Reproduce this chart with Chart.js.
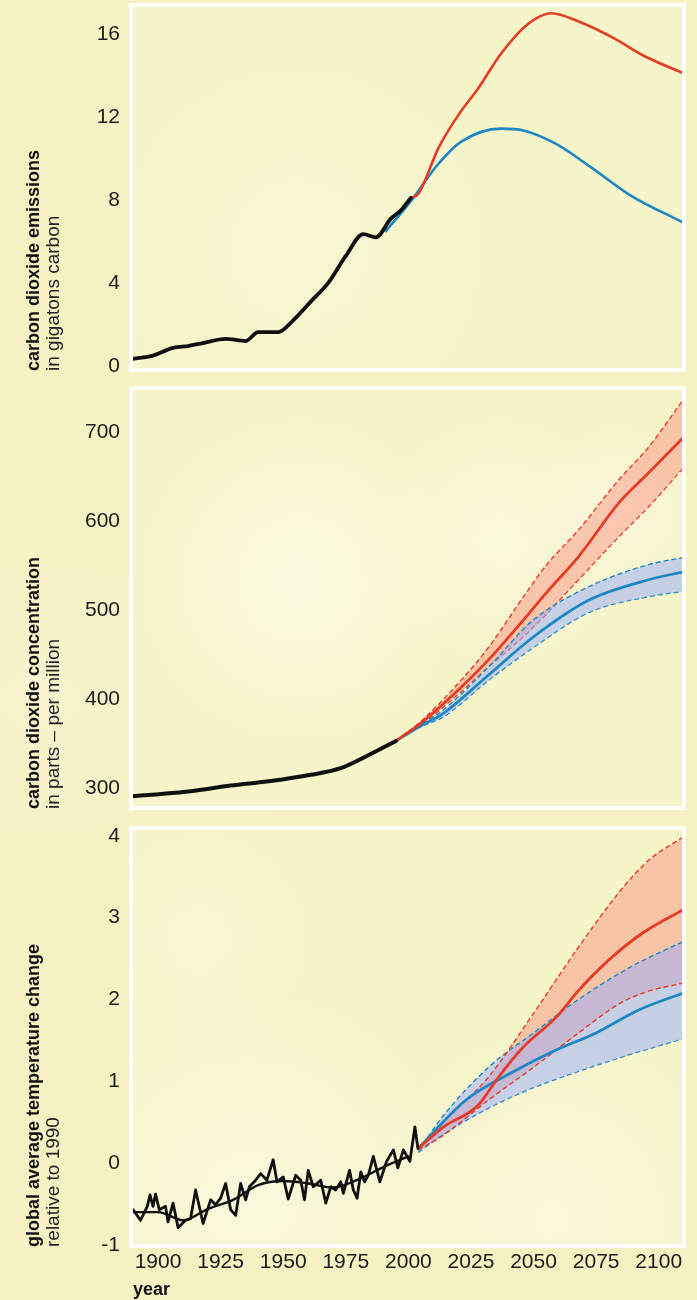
<!DOCTYPE html>
<html>
<head>
<meta charset="utf-8">
<script src="https://cdn.jsdelivr.net/npm/chart.js@4.4.1/dist/chart.umd.min.js"></script>
<style>
  html, body { margin: 0; padding: 0; background: #f4f1c2; }
  #wrap { position: relative; width: 697px; height: 1300px; overflow: hidden;
    background: radial-gradient(ellipse 300px 200px at 40px 700px, #f7f4cf, rgba(247,244,207,0)), #f4f1c2; }
  canvas { position: absolute; left: 0; }
</style>
</head>
<body>
<div id="wrap">
  <canvas id="c1" width="697" height="380" style="top:0px"></canvas>
  <canvas id="c2" width="697" height="440" style="top:380px"></canvas>
  <canvas id="c3" width="697" height="480" style="top:820px"></canvas>
</div>
<script>
// ---- carbon dioxide emissions (gigatons carbon)
const emisHistYears  = [1890, 1898, 1906, 1912, 1918, 1927, 1935, 1940, 1948, 1954, 1961, 1968, 1975, 1982, 1987, 1993, 1997, 2001];
const emisHistValues = [0.34, 0.5, 0.87, 0.96, 1.1, 1.3, 1.2, 1.63, 1.63, 2.2, 3.1, 4.0, 5.3, 6.35, 6.2, 7.1, 7.5, 8.1];
const emisHighYears  = [2001, 2004, 2012, 2020, 2028, 2037, 2048, 2057, 2068, 2082, 2094, 2110];
const emisHighValues = [8.1, 8.3, 10.5, 12.1, 13.4, 15.05, 16.5, 17.0, 16.6, 15.8, 14.95, 14.1];
const emisLowYears   = [1991, 2002, 2011, 2021, 2037, 2046, 2059, 2073, 2089, 2110];
const emisLowValues  = [6.5, 8.1, 9.6, 10.8, 11.44, 11.35, 10.7, 9.57, 8.2, 6.9];

// ---- carbon dioxide concentration (ppm)
const concHistYears  = [1890, 1899, 1913, 1929, 1945, 1961, 1973, 1984, 1995];
const concHistValues = [291, 293, 296.6, 303, 308, 315, 322.5, 337, 353];
const concHighYears  = [1995, 2005, 2021, 2032, 2046, 2055, 2068, 2084, 2096, 2110];
const concHighValues = [353, 373, 413, 444, 489, 519, 560, 620, 654, 694];
const concHighUpper  = [353, 375, 421, 458, 515, 550, 590, 646, 683, 737];
const concHighLower  = [353, 371, 408, 436, 470, 495, 534, 582, 616, 660];
const concLowYears   = [1995, 2005, 2014, 2032, 2050, 2072, 2096, 2110];
const concLowValues  = [353, 370, 384, 427, 470, 511, 534, 543];
const concLowUpper   = [353, 371, 388, 436, 489, 526, 551, 559];
const concLowLower   = [353, 369, 380, 421, 458, 497, 515, 521];

// ---- global average temperature change relative to 1990 (deg C)
const tempYears  = [1890, 1893, 1895.7, 1896.8, 1898, 1899, 1900.5, 1903, 1904, 1906, 1908, 1911, 1913, 1915, 1918,
  1921, 1923, 1925, 1927, 1929, 1931, 1933, 1935, 1936.5, 1939, 1941, 1943.5, 1946, 1947.5, 1950, 1952, 1955,
  1957, 1958.5, 1960, 1962, 1965, 1967, 1969, 1971, 1973, 1974, 1976.5, 1978, 1979.5, 1981, 1982.5, 1984, 1986,
  1988.6, 1991.3, 1994, 1995.8, 1998, 2000.6, 2002.6, 2003.8];
const tempValues = [-0.57, -0.7, -0.53, -0.39, -0.53, -0.38, -0.57, -0.53, -0.72, -0.49, -0.79, -0.7, -0.68, -0.33, -0.74,
  -0.45, -0.51, -0.43, -0.25, -0.57, -0.64, -0.25, -0.45, -0.29, -0.21, -0.13, -0.21, 0.04, -0.23, -0.17, -0.44, -0.15,
  -0.21, -0.45, -0.09, -0.29, -0.21, -0.49, -0.29, -0.33, -0.23, -0.37, -0.09, -0.33, -0.43, -0.11, -0.23, -0.15, 0.08,
  -0.23, 0.02, 0.16, -0.06, 0.16, 0.02, 0.44, 0.18];
const tempTrendYears  = [1890, 1900, 1910, 1920, 1930, 1940, 1950, 1960, 1970, 1980, 1990, 2000];
const tempTrendValues = [-0.6, -0.6, -0.7, -0.56, -0.45, -0.27, -0.22, -0.25, -0.3, -0.2, -0.05, 0.08];
const tempHighYears  = [2004, 2014, 2028, 2036, 2046, 2059, 2068, 2080, 2094, 2110];
const tempHighValues = [0.18, 0.44, 0.71, 1.05, 1.42, 1.78, 2.11, 2.48, 2.82, 3.1];
const tempHighBandYears = [2004, 2014, 2032, 2050, 2068, 2085, 2096, 2110];
const tempHighUpper  = [0.16, 0.5, 1.05, 1.83, 2.64, 3.34, 3.7, 3.99];
const tempHighLower  = [0.16, 0.34, 0.77, 1.17, 1.59, 1.96, 2.1, 2.2];
const tempLowYears   = [2004, 2023, 2041, 2059, 2075, 2092, 2110];
const tempLowValues  = [0.18, 0.77, 1.1, 1.38, 1.59, 1.87, 2.08];
const tempLowBandYears = [2004, 2014, 2032, 2050, 2068, 2089, 2110];
const tempLowUpper   = [0.15, 0.58, 1.17, 1.59, 2.0, 2.4, 2.71];
const tempLowLower   = [0.13, 0.35, 0.67, 0.92, 1.12, 1.33, 1.52];

const yearTicks = [1900, 1925, 1950, 1975, 2000, 2025, 2050, 2075, 2100];
const emisTicks = [0, 4, 8, 12, 16];
const concTicks = [300, 400, 500, 600, 700];
const tempTicks = [-1, 0, 1, 2, 3, 4];

const RED = '#e63b26', BLUE = '#1c87c2', BLACK = '#111111';
const RED_FILL = 'rgba(251,124,114,0.4)', BLUE_FILL = 'rgba(150,172,255,0.5)';
const tickFont = {family: '"Liberation Sans", Arial, sans-serif', size: 21};

function pts(xs, ys) {
  return xs.map((x, i) => ({x: x, y: ys[i]}));
}

function line(xs, ys, color, width, extra) {
  return Object.assign({
    data: pts(xs, ys), borderColor: color, borderWidth: width, pointRadius: 0,
    fill: false, cubicInterpolationMode: 'monotone', borderCapStyle: 'round', borderJoinStyle: 'round',
  }, extra || {});
}

function dashed(xs, ys, color, extra) {
  return line(xs, ys, color, 1.4, Object.assign({borderDash: [5, 3], borderCapStyle: 'butt'}, extra || {}));
}

function noPad(s) {
  s.paddingTop = 0; s.paddingBottom = 0; s.paddingLeft = 0; s.paddingRight = 0;
}

function yScale(min, max, ticks) {
  return {
    type: 'linear', min: min, max: max,
    grid: {display: false, drawTicks: false}, border: {display: false},
    ticks: {padding: 13, font: tickFont, color: '#1c1c1c', callback: v => String(v)},
    afterBuildTicks: s => { s.ticks = ticks.map(v => ({value: v})); },
    afterFit: s => { s.width = 133; noPad(s); },
  };
}

function xScale(show) {
  return {
    type: 'linear', min: 1890, max: 2109.3, display: show,
    grid: {display: false, drawTicks: false}, border: {display: false},
    ticks: {padding: 6, font: tickFont, color: '#1c1c1c', maxRotation: 0, autoSkip: false,
      callback: v => String(v)},
    afterBuildTicks: s => { s.ticks = yearTicks.map(v => ({value: v})); },
    afterFit: s => { s.height = show ? 56 : 0; noPad(s); },
  };
}

// background, white frame and the two-line axis title
const panelFrame = {
  id: 'panelFrame',
  beforeDraw(chart, args, opts) {
    const {ctx, chartArea: a} = chart;
    ctx.save();
    ctx.fillStyle = '#f6f4c9';
    ctx.fillRect(a.left, a.top, a.right - a.left, a.bottom - a.top);
    ctx.beginPath();
    ctx.rect(a.left, a.top, a.right - a.left, a.bottom - a.top);
    ctx.clip();
    (opts.clouds || []).forEach(c => {
      const g = ctx.createRadialGradient(c[0], c[1], 0, c[0], c[1], c[2]);
      g.addColorStop(0, c[3]);
      g.addColorStop(1, 'rgba(252,250,228,0)');
      ctx.fillStyle = g;
      ctx.fillRect(a.left, a.top, a.right - a.left, a.bottom - a.top);
    });
    ctx.restore();
  },
  afterDraw(chart, args, opts) {
    const {ctx, chartArea: a} = chart;
    ctx.save();
    ctx.strokeStyle = '#ffffff';
    ctx.lineWidth = 4;
    ctx.strokeRect(a.left - 2, a.top - 2, a.right - a.left + 4, a.bottom - a.top + 4);
    const base = a.bottom + 3;
    ctx.fillStyle = '#111';
    ctx.textBaseline = 'middle';
    ctx.textAlign = 'left';
    ctx.translate(0, base);
    ctx.rotate(-Math.PI / 2);
    ctx.font = 'bold 18px "Liberation Sans", Arial, sans-serif';
    ctx.fillText(opts.title, 0, 34);
    ctx.font = '19px "Liberation Sans", Arial, sans-serif';
    ctx.fillStyle = '#222';
    ctx.fillText(opts.sub, 0, 54);
    ctx.restore();
    if (opts.xTitle) {
      ctx.save();
      ctx.fillStyle = '#111';
      ctx.font = 'bold 18px "Liberation Sans", Arial, sans-serif';
      ctx.textBaseline = 'middle';
      ctx.fillText(opts.xTitle, a.left, chart.height - 10);
      ctx.restore();
    }
  },
};

function makeChart(id, datasets, y, xShow, padding, frame) {
  return new Chart(document.getElementById(id), {
    type: 'line',
    data: {datasets: datasets},
    options: {
      responsive: false, animation: false, devicePixelRatio: 1,
      layout: {padding: padding},
      scales: {x: xScale(xShow), y: y},
      plugins: {legend: {display: false}, tooltip: {enabled: false}, panelFrame: frame},
    },
    plugins: [panelFrame],
  });
}

makeChart('c1', [
  line(emisHistYears, emisHistValues, BLACK, 3.8),
  line(emisHighYears, emisHighValues, RED, 2.6),
  line(emisLowYears, emisLowValues, BLUE, 2.6),
], yScale(-0.1, 17.3, emisTicks), false, {top: 7, bottom: 12, right: 15, left: 0}, {
  title: 'carbon dioxide emissions', sub: 'in gigatons carbon',
  clouds: [[300, 250, 200, 'rgba(250,248,215,0.5)']],
});

// blue band listed before the red band so it is painted over it
makeChart('c2', [
  line(concHistYears, concHistValues, BLACK, 4),
  line(concHighYears, concHighValues, RED, 2.8),
  line(concLowYears, concLowValues, BLUE, 2.8),
  dashed(concLowYears, concLowUpper, BLUE, {fill: '+1', backgroundColor: BLUE_FILL}),
  dashed(concLowYears, concLowLower, BLUE),
  dashed(concHighYears, concHighUpper, RED, {fill: '+1', backgroundColor: RED_FILL}),
  dashed(concHighYears, concHighLower, RED),
], yScale(280, 747, concTicks), false, {top: 10, bottom: 14, right: 15, left: 0}, {
  title: 'carbon dioxide concentration', sub: 'in parts \u2013 per million',
  clouds: [[300, 200, 170, 'rgba(252,251,230,0.8)'], [500, 160, 130, 'rgba(252,251,230,0.6)'],
    [620, 130, 90, 'rgba(252,251,232,0.6)']],
});

makeChart('c3', [
  line(tempYears, tempValues, BLACK, 2.8, {cubicInterpolationMode: 'default', tension: 0}),
  line(tempTrendYears, tempTrendValues, BLACK, 2.4),
  line(tempHighYears, tempHighValues, RED, 2.8),
  line(tempLowYears, tempLowValues, BLUE, 2.8),
  dashed(tempHighBandYears, tempHighUpper, RED),
  dashed(tempHighBandYears, tempHighLower, RED),
  dashed(tempLowBandYears, tempLowUpper, BLUE, {fill: '+1', backgroundColor: BLUE_FILL}),
  dashed(tempLowBandYears, tempLowLower, BLUE),
  line(tempHighBandYears, tempHighUpper, 'rgba(0,0,0,0)', 0, {fill: '+1', backgroundColor: RED_FILL}),
  line(tempHighBandYears, tempHighLower, 'rgba(0,0,0,0)', 0),
], yScale(-0.99, 4.07, tempTicks), true, {top: 10, bottom: 0, right: 15, left: 0}, {
  title: 'global average temperature change', sub: 'relative to 1990', xTitle: 'year',
  clouds: [[250, 380, 220, 'rgba(252,250,228,0.7)'], [550, 400, 200, 'rgba(252,250,228,0.6)'],
    [200, 120, 120, 'rgba(251,249,222,0.4)']],
});
</script>
</body>
</html>
